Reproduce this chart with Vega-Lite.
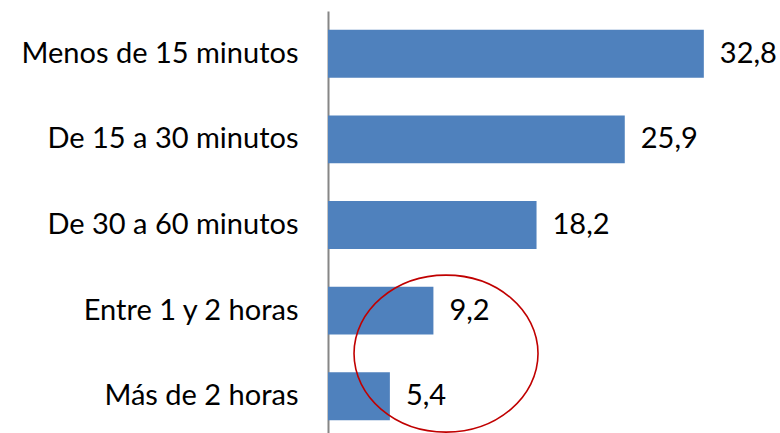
{
  "$schema": "https://vega.github.io/schema/vega-lite/v6.json",
  "width": 440,
  "height": 428,
  "autosize": {"type": "none"},
  "padding": {"left": 328, "top": 11, "right": 12, "bottom": 0},
  "background": "white",
  "config": {
    "view": {"stroke": null},
    "locale": {"number": {"decimal": ",", "thousands": ".", "grouping": [3], "currency": ["", " €"]}}
  },
  "layer": [
    {
      "data": {"values": [
        {"categoria": "Menos de 15 minutos", "valor": 32.8},
        {"categoria": "De 15 a 30 minutos", "valor": 25.9},
        {"categoria": "De 30 a 60 minutos", "valor": 18.2},
        {"categoria": "Entre 1 y 2 horas", "valor": 9.2},
        {"categoria": "Más de 2 horas", "valor": 5.4}
      ]},
      "encoding": {
        "y": {
          "field": "categoria", "type": "nominal",
          "sort": ["Menos de 15 minutos", "De 15 a 30 minutos", "De 30 a 60 minutos", "Entre 1 y 2 horas", "Más de 2 horas"],
          "scale": {"paddingInner": 0.44, "paddingOuter": 0.22},
          "axis": {"title": null, "ticks": false, "labelPadding": 30, "labelFont": "Lato", "labelFontSize": 29, "labelColor": "#000000", "labelLimit": 400, "domainColor": "#868686", "domainWidth": 2}
        },
        "x": {"field": "valor", "type": "quantitative", "scale": {"domain": [0, 38.4], "nice": false}, "axis": null}
      },
      "layer": [
        {"mark": {"type": "bar", "color": "#4F81BD"}},
        {"mark": {"type": "text", "align": "left", "baseline": "middle", "dx": 16, "font": "Lato", "fontSize": 29, "color": "#000000"},
         "encoding": {"text": {"field": "valor", "type": "quantitative", "format": ".1f"}}}
      ]
    },
    {
      "data": {"values": [{"categoria": "Entre 1 y 2 horas", "valor": 10.3}]},
      "mark": {"type": "point", "shape": "M -1 0 A 1 0.853 0 1 0 1 0 A 1 0.853 0 1 0 -1 0 Z", "size": 33856, "filled": false, "stroke": "#C00000", "strokeWidth": 1.6, "opacity": 1, "yOffset": 43},
      "encoding": {
        "y": {"field": "categoria", "type": "nominal", "sort": ["Menos de 15 minutos", "De 15 a 30 minutos", "De 30 a 60 minutos", "Entre 1 y 2 horas", "Más de 2 horas"]},
        "x": {"field": "valor", "type": "quantitative"}
      }
    }
  ]
}
